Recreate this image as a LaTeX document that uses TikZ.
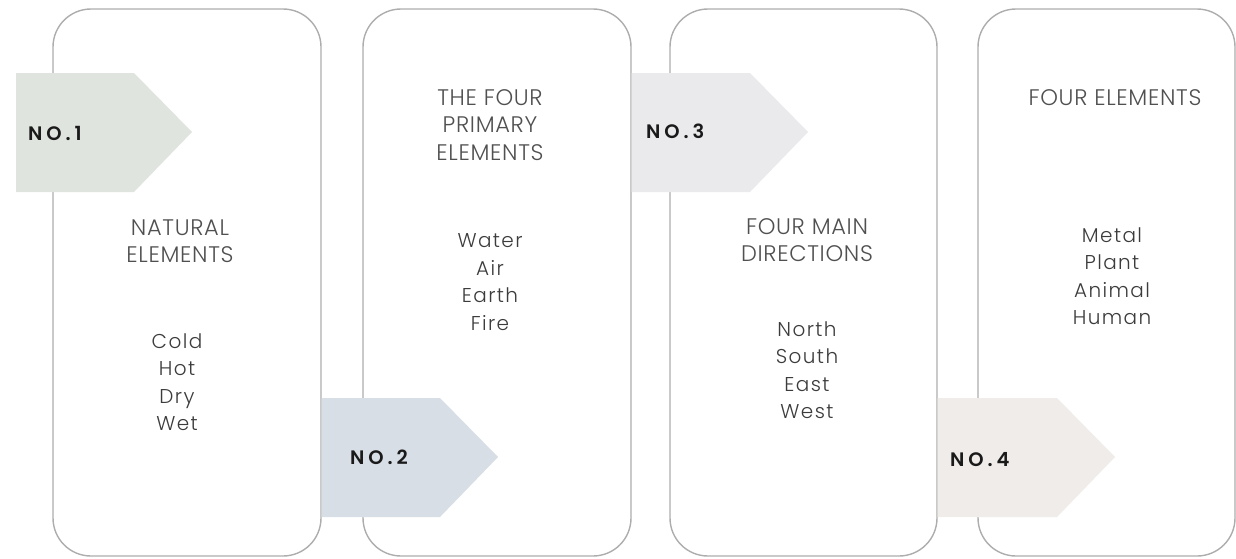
\documentclass[tikz,border=0pt]{standalone}
\usepackage{fontspec}
\setmainfont{Poppins Light}
\newfontfamily\tagfont[LetterSpace=20]{Poppins SemiBold}
\definecolor{framegray}{HTML}{ADADAD}
\definecolor{textgray}{HTML}{3C3C3C}
\definecolor{headgray}{HTML}{505050}
\definecolor{tagdark}{HTML}{1A1A1A}
\definecolor{tagone}{HTML}{E0E4DF}
\definecolor{tagtwo}{HTML}{D8DEE6}
\definecolor{tagthree}{HTML}{EAEAEC}
\definecolor{tagfour}{HTML}{EFECE9}
\tikzset{
  panel/.style={draw=framegray, line width=1.4pt, rounded corners=38pt, fill=white},
  heading/.style={align=center, text=headgray, font=\fontsize{22.5}{27.5}\selectfont\addfontfeature{LetterSpace=3}, inner sep=0pt},
  items/.style={align=center, text=textgray, font=\fontsize{20}{27.5}\selectfont\addfontfeature{LetterSpace=7}, inner sep=0pt},
  tagtext/.style={text=tagdark, font=\fontsize{19.5}{22}\selectfont\tagfont, inner sep=0pt, anchor=west},
}
\begin{document}
\begin{tikzpicture}[x=1pt,y=-1pt]
\useasboundingbox (0,0) rectangle (1236,558);
% four rounded panels
\draw[panel] (53,9) rectangle (321,556);
\draw[panel] (363,9) rectangle (631,556);
\draw[panel] (670,9) rectangle (937,556);
\draw[panel] (978,9) rectangle (1235,556);
% numbered tags (pentagon arrows)
\fill[tagone]   (16,73)   -- (134,73)   -- (192,132)  -- (134,192)  -- (16,192)  -- cycle;
\fill[tagtwo]   (321.7,398) -- (440,398) -- (498,457) -- (440,517) -- (321.7,517) -- cycle;
\fill[tagthree] (631.7,73)  -- (750,73)  -- (808,132) -- (750,192) -- (631.7,192) -- cycle;
\fill[tagfour]  (937.7,398) -- (1057,398) -- (1115,457) -- (1057,517) -- (937.7,517) -- cycle;
\node[tagtext] (no1) at (28,133) {NO.1};
\node[tagtext] (no2) at (350,457) {NO.2};
\node[tagtext] (no3) at (646,131) {NO.3};
\node[tagtext] (no4) at (950,460) {NO.4};
% panel headings
\node[heading] (h1) at (180,241) {NATURAL\\ELEMENTS};
\node[heading] (h2) at (490,125) {THE FOUR\\PRIMARY\\ELEMENTS};
\node[heading] (h3) at (807,240) {FOUR MAIN\\DIRECTIONS};
\node[heading] (h4) at (1115,98) {FOUR ELEMENTS};
% panel lists
\node[items] (l1) at (177,382) {Cold\\Hot\\Dry\\Wet};
\node[items] (l2) at (490,282) {Water\\Air\\Earth\\Fire};
\node[items] (l3) at (807,370) {North\\South\\East\\West};
\node[items] (l4) at (1112,276) {Metal\\Plant\\Animal\\Human};
\end{tikzpicture}
\end{document}
